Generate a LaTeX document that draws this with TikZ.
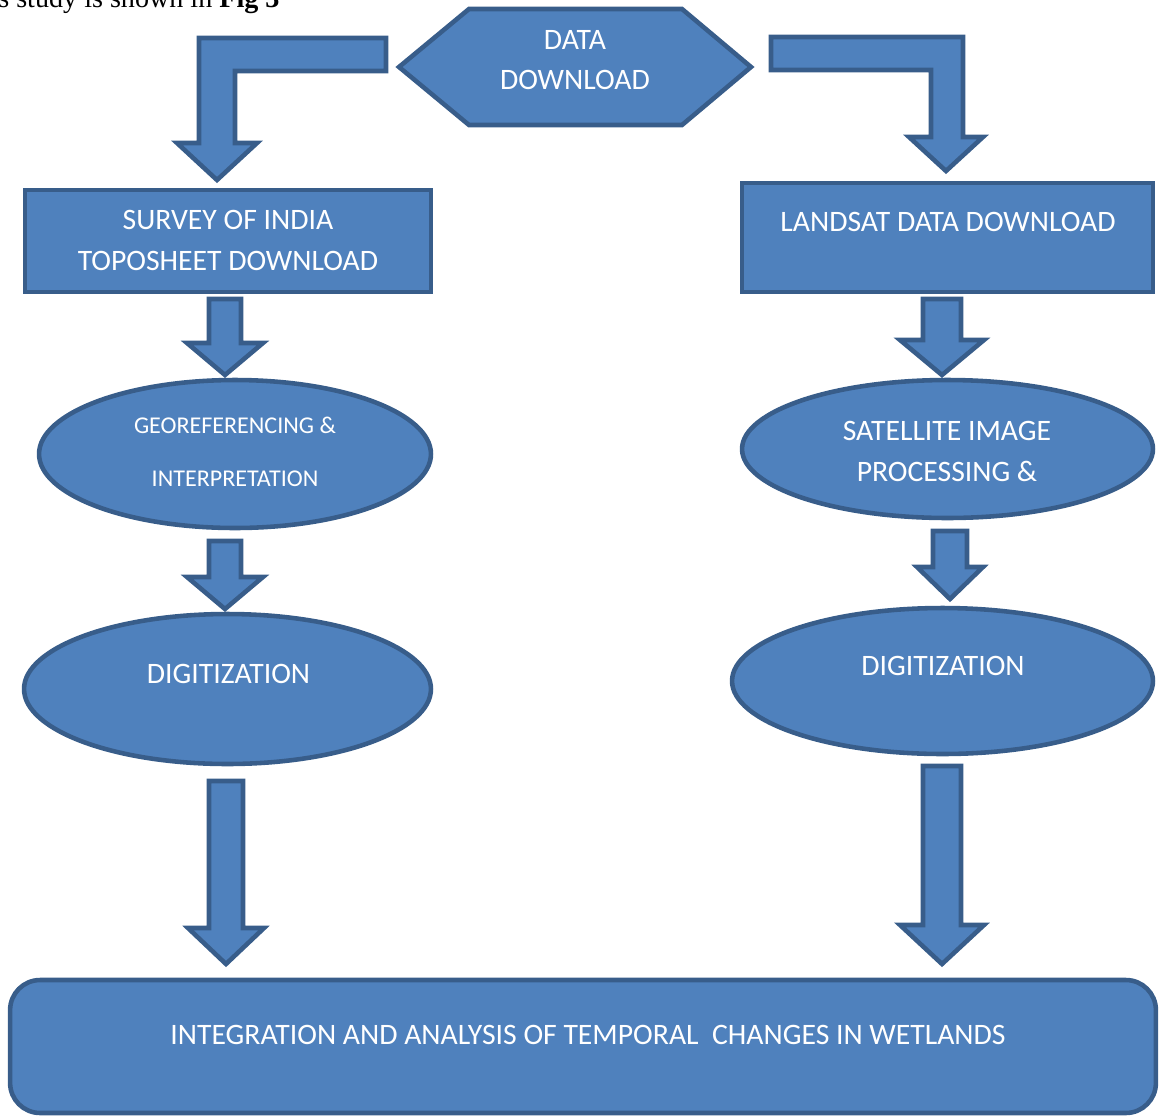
\documentclass[tikz,border=0pt]{standalone}
\usepackage{fontspec}
\setmainfont{Carlito}
\newfontfamily\pageserif{Liberation Serif}
\definecolor{boxblue}{HTML}{4F81BD}
\definecolor{edgeblue}{HTML}{385D8A}
\tikzset{
  blk/.style={fill=boxblue,draw=edgeblue,line width=2.6pt,line join=miter},
  sqbox/.style={blk,rectangle,inner sep=0pt,outer sep=0pt},
  ovbox/.style={blk,ellipse,inner sep=0pt,outer sep=0pt},
  txt/.style={text=white,inner sep=0pt,align=center,font=\fontsize{16.9}{23}\selectfont},
  smtxt/.style={txt,font=\fontsize{13.7}{30}\selectfont}
}
\newcommand{\blockdown}[6]{%
  \draw[blk] (#1-#5,#2) -- (#1+#5,#2) -- (#1+#5,#3) -- (#1+#6,#3) -- (#1,#4)
    -- (#1-#6,#3) -- (#1-#5,#3) -- cycle;}
\usetikzlibrary{shapes.geometric}
\begin{document}
\begin{tikzpicture}[x=0.02cm,y=-0.02cm,line cap=round,line join=round]
  \useasboundingbox (0,0) rectangle (1159,1116);
  \clip (0,0) rectangle (1159,1116);
  \node[anchor=base west,inner sep=0pt,font=\pageserif\fontsize{16}{19}\selectfont] (intro) at (-2,7) {s study is shown in \textbf{Fig 3}};
  \draw[blk] (399,67) -- (469,9) -- (682,9) -- (751,67) -- (682,125) -- (469,125) -- cycle;
  \node[txt] (data) at (575,60) {DATA\\DOWNLOAD};
  \draw[blk] (386,38) -- (199,38) -- (199,143) -- (177,143) -- (217,180) -- (257,143) -- (235,143) -- (235,71) -- (386,71) -- cycle;
  \draw[blk] (771,37) -- (963,37) -- (963,137) -- (983,137) -- (946,171) -- (909,137) -- (931,137) -- (931,70) -- (771,70) -- cycle;
  \node[sqbox,minimum width=8.12cm,minimum height=2.04cm] (survey) at (228,241) {};
  \node[txt] at (228,240.5) {SURVEY OF INDIA\\TOPOSHEET DOWNLOAD};
  \node[sqbox,minimum width=8.22cm,minimum height=2.18cm] (landsat) at (947.5,237.5) {};
  \node[txt] at (948,222) {LANDSAT DATA DOWNLOAD};
  \blockdown{225}{299}{343}{375}{16}{38}
  \blockdown{942}{299}{340}{375}{19}{42}
  \node[ovbox,minimum width=7.84cm,minimum height=2.96cm] (georef) at (235,454) {};
  \node[smtxt] at (235,451.5) {GEOREFERENCING \&\\INTERPRETATION};
  \node[ovbox,minimum width=8.22cm,minimum height=2.76cm] (satimg) at (947.5,449) {};
  \node[txt] at (947,451.5) {SATELLITE IMAGE\\PROCESSING \&};
  \blockdown{225}{541}{577}{609}{16}{38}
  \blockdown{950}{531}{567}{599}{17}{33}
  \node[ovbox,minimum width=8.14cm,minimum height=3.0cm] (digleft) at (227.5,689) {};
  \node[txt] at (228.5,674) {DIGITIZATION};
  \node[ovbox,minimum width=8.42cm,minimum height=2.92cm] (digright) at (942.5,681) {};
  \node[txt] at (943,666) {DIGITIZATION};
  \blockdown{226}{781}{928}{964}{17}{38}
  \blockdown{942}{766}{925}{964}{19}{42}
  \node[sqbox,rounded corners=0.6cm,minimum width=22.92cm,minimum height=2.66cm] (integ) at (583,1046.5) {};
  \node[txt] at (588,1035) {INTEGRATION AND ANALYSIS OF TEMPORAL\ \ CHANGES IN WETLANDS};
\end{tikzpicture}
\end{document}
